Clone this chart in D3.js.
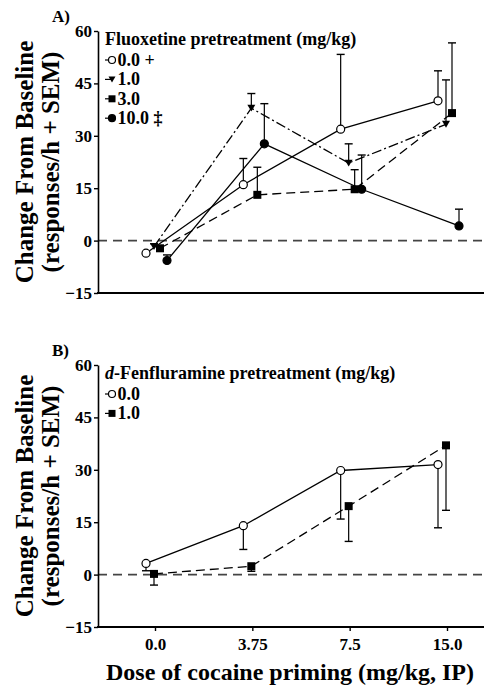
<!DOCTYPE html>
<html lang="en">
<head>
  <meta charset="UTF-8">
  <title>Cocaine priming - pretreatment</title>
  <script src="https://d3js.org/d3.v7.min.js"></script>
  <style>
    body {
      margin: 0;
      background: #fff;
    }
    svg text {
      font-family: "Liberation Serif", "Times New Roman", serif;
      font-weight: bold;
      fill: #000;
    }
    .tick text {
      font-size: 17px;
    }
    .legend text {
      font-size: 18px;
    }
  </style>
</head>
<body>
  <div id="chart"></div>

  <script>
    // categories (cocaine priming dose) and y ticks
    const categories = ["0.0", "3.75", "7.5", "15.0"];
    const yTicks = [-15, 0, 15, 30, 45, 60];

    // Panel A - fluoxetine pretreatment
    const fluoxLabels = ["0.0 +", "1.0", "3.0", "10.0 \u2021"];
    const fluox00 = [-3.6, 16.0, 31.9, 40.0];
    const fluox00Sem = [0, 7.5, 21.4, 8.6];
    const fluox10 = [-1.7, 37.9, 22.2, 33.3];
    const fluox10Sem = [0.8, 4.2, 5.5, 12.7];
    const fluox30 = [-2.2, 13.1, 14.7, 36.5];
    const fluox30Sem = [0, 7.9, 5.6, 20.1];
    const fluox100 = [-5.7, 27.7, 14.7, 4.2];
    const fluox100Sem = [1.6, 11.5, 9.8, 4.8];

    // Panel B - d-fenfluramine pretreatment (SEM drawn downward)
    const fenLabels = ["0.0", "1.0"];
    const fen00 = [3.2, 14.0, 29.8, 31.5];
    const fen00Sem = [2.1, 6.8, 13.9, 18.1];
    const fen10 = [0.2, 2.4, 19.6, 37.0];
    const fen10Sem = [3.2, 1.45, 10.1, 18.6];

    const W = 484, H = 687;
    const svg = d3.select("#chart").append("svg")
      .attr("width", W)
      .attr("height", H);

    const axisX = 98;
    const x = d3.scalePoint().domain(categories).range([155, 447]);

    const dashes = { solid: null, dash: "9,5", dashdot: "10,3,2,3" };

    function drawMarker(g, type, cx, cy, s) {
      if (type === "circleOpen" || type === "circle") {
        g.append("circle")
          .attr("cx", cx).attr("cy", cy).attr("r", s / 2)
          .attr("fill", type === "circle" ? "#000" : "#fff")
          .attr("stroke", "#000").attr("stroke-width", 1.2);
      } else if (type === "square") {
        g.append("rect")
          .attr("x", cx - s / 2).attr("y", cy - s / 2)
          .attr("width", s).attr("height", s)
          .attr("fill", "#000");
      } else if (type === "triangle") {
        const h = s * 0.85;
        g.append("path")
          .attr("d", `M${cx - s / 2},${cy - h / 2}L${cx + s / 2},${cy - h / 2}L${cx},${cy + h / 2}Z`)
          .attr("fill", "#000");
      }
    }

    function drawPanel(p) {
      const y = d3.scaleLinear().domain([-15, 60]).range([p.bottom, p.top]);
      const g = svg.append("g");

      // zero reference line
      g.append("line")
        .attr("x1", axisX).attr("x2", W)
        .attr("y1", y(0)).attr("y2", y(0))
        .attr("stroke", "#444").attr("stroke-width", 1.6)
        .attr("stroke-dasharray", "9,6");

      // y axis
      const ya = g.append("g")
        .attr("transform", `translate(${axisX},0)`)
        .call(d3.axisLeft(y).tickValues(yTicks).tickSize(4).tickSizeOuter(0).tickPadding(2));
      ya.select(".domain").attr("stroke-width", 1.6);
      ya.selectAll(".tick line").attr("stroke-width", 1.4);

      // x axis line
      g.append("line")
        .attr("x1", axisX - 1).attr("x2", W)
        .attr("y1", p.bottom).attr("y2", p.bottom)
        .attr("stroke", "#000").attr("stroke-width", 1.8);

      if (p.xTicks) {
        const xa = g.append("g")
          .attr("transform", `translate(0,${p.bottom})`)
          .call(d3.axisBottom(x).tickSize(4).tickPadding(7));
        xa.select(".domain").remove();
        xa.selectAll(".tick line").attr("stroke-width", 1.4);
      }

      // series lines, error bars, markers
      p.series.forEach(s => {
        const pts = s.values.map((v, i) => [x(categories[i]) + s.offset, y(v)]);
        g.append("path")
          .attr("d", d3.line()(pts))
          .attr("fill", "none")
          .attr("stroke", "#000")
          .attr("stroke-width", 1.3)
          .attr("stroke-dasharray", dashes[s.line]);
      });

      p.series.forEach(s => {
        s.values.forEach((v, i) => {
          if (!s.sem[i]) return;
          const cx = x(categories[i]) + s.offset;
          const end = y(v + p.errDir * s.sem[i]);
          g.append("line")
            .attr("x1", cx).attr("x2", cx)
            .attr("y1", y(v)).attr("y2", end)
            .attr("stroke", "#000").attr("stroke-width", 1.2);
          g.append("line")
            .attr("x1", cx - 4).attr("x2", cx + 4)
            .attr("y1", end).attr("y2", end)
            .attr("stroke", "#000").attr("stroke-width", 1.4);
        });
      });

      p.series.forEach(s => {
        s.values.forEach((v, i) => {
          drawMarker(g, s.marker, x(categories[i]) + s.offset, y(v), 8);
        });
      });

      // panel letter
      g.append("text")
        .attr("x", 52).attr("y", p.top - 9)
        .style("font-size", "17px")
        .text(p.letter);

      // legend
      const lg = g.append("g").attr("class", "legend");
      const title = lg.append("text").attr("x", 105).attr("y", p.top + 14);
      if (p.italicPrefix) {
        title.append("tspan").style("font-style", "italic").text(p.italicPrefix);
      }
      title.append("tspan").text(p.title);

      p.series.forEach((s, i) => {
        const ly = p.top + 35 + i * 19.4;
        lg.append("line")
          .attr("x1", 105).attr("x2", 111)
          .attr("y1", ly - 6).attr("y2", ly - 6)
          .attr("stroke", "#000").attr("stroke-width", 1.2);
        drawMarker(lg, s.marker, 112, ly - 6, 7);
        lg.append("text")
          .attr("x", 117.5).attr("y", ly)
          .text(s.label);
      });

      // y axis title
      const yt = g.append("text")
        .attr("transform", `translate(33,${(p.top + p.bottom) / 2}) rotate(-90)`)
        .attr("text-anchor", "middle")
        .style("font-size", "25px");
      yt.append("tspan").attr("x", 0).attr("y", 0).text("Change From Baseline");
      yt.append("tspan").attr("x", 0).attr("y", 26).text("(responses/h + SEM)");
    }

    drawPanel({
      letter: "A)",
      top: 31, bottom: 293,
      xTicks: false,
      errDir: 1,
      title: "Fluoxetine pretreatment (mg/kg)",
      series: [
        { label: fluoxLabels[0], values: fluox00, sem: fluox00Sem, marker: "circleOpen", line: "solid", offset: -9 },
        { label: fluoxLabels[1], values: fluox10, sem: fluox10Sem, marker: "triangle", line: "dashdot", offset: -1 },
        { label: fluoxLabels[2], values: fluox30, sem: fluox30Sem, marker: "square", line: "dash", offset: 5 },
        { label: fluoxLabels[3], values: fluox100, sem: fluox100Sem, marker: "circle", line: "solid", offset: 12 }
      ]
    });

    drawPanel({
      letter: "B)",
      top: 365, bottom: 627,
      xTicks: true,
      errDir: -1,
      italicPrefix: "d",
      title: "-Fenfluramine pretreatment (mg/kg)",
      series: [
        { label: fenLabels[0], values: fen00, sem: fen00Sem, marker: "circleOpen", line: "solid", offset: -9 },
        { label: fenLabels[1], values: fen10, sem: fen10Sem, marker: "square", line: "dash", offset: -1 }
      ]
    });

    // x axis title
    svg.append("text")
      .attr("x", 290).attr("y", 680)
      .attr("text-anchor", "middle")
      .style("font-size", "24px")
      .text("Dose of cocaine priming (mg/kg, IP)");
  </script>
</body>
</html>
